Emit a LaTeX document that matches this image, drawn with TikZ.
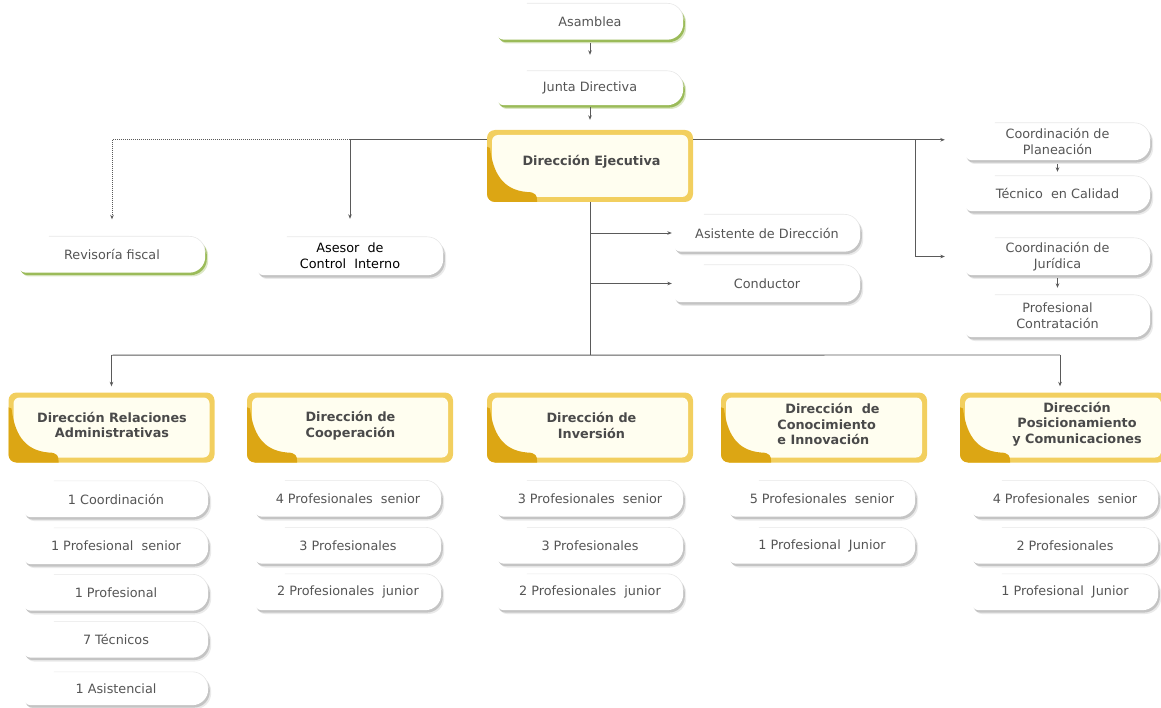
\documentclass[tikz,border=0pt]{standalone}
\usepackage{fontspec}
\setmainfont{DejaVu Sans}
\usetikzlibrary{arrows.meta,calc,backgrounds}
\definecolor{ln}{HTML}{5A5A5A}
\definecolor{tg}{HTML}{555555}
\definecolor{tb}{HTML}{4A4A4A}
\definecolor{dyel}{HTML}{F2CF5F}
\definecolor{crm}{HTML}{FFFEF0}
\definecolor{dgold}{HTML}{DCA614}
\definecolor{grn}{HTML}{9BBB59}
\definecolor{shg}{HTML}{C4C4C4}
\newcommand\bfill[4]{\fill[#1] ([shift={(#3,#4)}]#2.north) -- ([shift={(#3-16pt,#4)}]#2.north east) arc[start angle=90,end angle=0,radius=16pt] -- ([shift={(#3,#4+16pt)}]#2.south east) arc[start angle=0,end angle=-90,radius=16pt] -- ([shift={(#3+7pt,#4)}]#2.south west) arc[start angle=270,end angle=180,radius=7pt] -- ([shift={(#3,#4-7pt)}]#2.north west) arc[start angle=180,end angle=90,radius=7pt] -- cycle;}
\newcommand\shelf[2][shg]{\bfill{#1!35}{#2}{3pt}{-3.8pt}\bfill{#1}{#2}{1.6pt}{-2.4pt}\bfill{white}{#2}{0pt}{0pt}\draw[black!9,line width=0.6pt] ([xshift=30pt]#2.north west) -- ([xshift=-16pt]#2.north east) arc[start angle=90,end angle=0,radius=16pt];}
\begin{document}
\begin{tikzpicture}[x=1pt,y=-1pt,
 txt/.style={font=\fontsize{12.8}{16}\selectfont,text=tg,align=center,inner sep=0pt},
 ibox/.style={txt,minimum width=186pt,minimum height=36pt},
 btxt/.style={font=\bfseries\fontsize{12.8}{15.7}\selectfont,text=tb,align=center,inner sep=0pt},
 dirbox/.style={rounded corners=8pt,fill=dyel,minimum width=206pt,minimum height=70pt,inner sep=0pt,
   path picture={
     \fill[crm,rounded corners=6pt] ([shift={(5pt,-5pt)}]path picture bounding box.north west) rectangle ([shift={(-5pt,5pt)}]path picture bounding box.south east);
     \fill[dgold,sharp corners] ([shift={(-2pt,56pt)}]path picture bounding box.south west) -- ([shift={(3pt,54pt)}]path picture bounding box.south west) .. controls ([shift={(6pt,30pt)}]path picture bounding box.south west) and ([shift={(15pt,12pt)}]path picture bounding box.south west) .. ([shift={(40pt,10pt)}]path picture bounding box.south west) .. controls ([shift={(49pt,10pt)}]path picture bounding box.south west) and ([shift={(50pt,6pt)}]path picture bounding box.south west) .. ([shift={(50pt,2pt)}]path picture bounding box.south west) -- ([shift={(50pt,-2pt)}]path picture bounding box.south west) -- ([shift={(-2pt,-2pt)}]path picture bounding box.south west) -- cycle;
   }},
 conn/.style={draw=ln,line width=0.9pt},
 arr/.style={conn,-{Stealth[length=4.5pt,width=3.6pt]}},
]
\useasboundingbox (0,0) rectangle (1161,708);
% top chain
\node[ibox,minimum height=36pt] (asam) at (590,21.5) {Asamblea};
\node[ibox,minimum height=34pt] (junta) at (590,88) {Junta Directiva};
\node[dirbox,minimum height=72pt] (de) at (590,166) {};
\node[btxt] (det) at (591.5,162) {Dirección Ejecutiva};
% staff
\node[ibox] (rev) at (112,254.5) {Revisoría fiscal};
\node[ibox,minimum height=38pt,text=black] (ase) at (350,256) {Asesor~~de\\Control~~Interno};
\node[ibox,minimum height=37pt] (asis) at (767,233) {Asistente de Dirección};
\node[ibox,minimum height=37pt] (cond) at (767,283.5) {Conductor};
\node[ibox,minimum width=185pt,minimum height=37pt] (plan) at (1057.5,141.5) {Coordinación de\\Planeación};
\node[ibox,minimum width=185pt,minimum height=35pt] (tec) at (1057.5,193.5) {Técnico~ en Calidad};
\node[ibox,minimum width=185pt,minimum height=37pt] (jur) at (1057.5,256.5) {Coordinación de\\Jurídica};
\node[ibox,minimum width=185pt,minimum height=42pt] (prof) at (1057.5,316) {Profesional\\Contratación};
% directorates
\node[dirbox] (d1) at (111.5,427.5) {};
\node[dirbox] (d2) at (350,427.5) {};
\node[dirbox] (d3) at (590,427.5) {};
\node[dirbox] (d4) at (824,427.5) {};
\node[dirbox] (d5) at (1063,427.5) {};
\node[btxt] (d1t) at (112,425) {Dirección Relaciones\\Administrativas};
\node[btxt] (d2t) at (350.5,425.5) {Dirección de\\Cooperación};
\node[btxt] (d3t) at (591.5,425.5) {Dirección de\\Inversión};
\node[btxt,align=left] (d4t) at (828.5,424) {\hspace{8pt}Dirección~~de\\Conocimiento\\e Innovación};
\node[btxt] (d5t) at (1077,424) {Dirección\\Posicionamiento\\y Comunicaciones};
% items
\node[ibox,minimum width=184pt] (a1) at (116,499) {1 Coordinación};
\node[ibox,minimum width=184pt] (a2) at (116,546) {1 Profesional~~senior};
\node[ibox,minimum width=184pt] (a3) at (116,592.5) {1 Profesional};
\node[ibox,minimum width=184pt] (a4) at (116,639.5) {7 Técnicos};
\node[ibox,minimum width=184pt,minimum height=33pt] (a5) at (116,688.5) {1 Asistencial};
\node[ibox] (b1) at (348,498.5) {4 Profesionales~~senior};
\node[ibox] (b2) at (348,545.5) {3 Profesionales};
\node[ibox] (b3) at (348,592) {2 Profesionales~~junior};
\node[ibox] (c1) at (590,498.5) {3 Profesionales~~senior};
\node[ibox] (c2) at (590,545.5) {3 Profesionales};
\node[ibox] (c3) at (590,592) {2 Profesionales~~junior};
\node[ibox] (e1) at (822,498.5) {5 Profesionales~~senior};
\node[ibox] (e2) at (822,545.5) {1 Profesional~~Junior};
\node[ibox] (f1) at (1065,498.5) {4 Profesionales~~senior};
\node[ibox] (f2) at (1065,545.5) {2 Profesionales};
\node[ibox] (f3) at (1065,592) {1 Profesional~~Junior};
% shelves
\begin{scope}[on background layer]
\shelf[grn]{asam}\shelf[grn]{junta}\shelf[grn]{rev}
\foreach \n in {ase,asis,cond,plan,tec,jur,prof,a1,a2,a3,a4,a5,b1,b2,b3,c1,c2,c3,e1,e2,f1,f2,f3}{\shelf{\n}}
\end{scope}
% connectors
\draw[arr] ([yshift=-3.5pt]asam.south) -- ([yshift=16pt]junta.north);
\draw[arr] ([yshift=-2pt]junta.south) -- ([yshift=10pt]de.north);
\coordinate (L) at ($(de.north west)+(0,10)$);
\coordinate (R) at ($(de.north east)+(0,10)$);
\draw[conn] (L) -- (ase.north |- L);
\draw[conn,dash pattern=on 1pt off 1pt] (ase.north |- L) -- (rev.north |- L);
\draw[arr,dash pattern=on 1pt off 1pt] (rev.north |- L) -- ([yshift=17pt]rev.north);
\draw[arr] (ase.north |- L) -- ([yshift=18pt]ase.north);
\draw[arr] (R) -- ($(plan.west |- R)+(-20,0)$);
\coordinate (Rv) at (915,140);
\draw[arr] (Rv) |- ($(jur.west)+(-20,0)$);
\draw[arr] ([yshift=-4pt]plan.south) -- ([yshift=4pt]tec.north);
\draw[arr] ([yshift=-3pt]jur.south) -- ([yshift=7pt]prof.north);
\coordinate (B) at ($(de.south)+(0,153)$);
\draw[conn] (de.south) -- (B);
\draw[arr] (de.south |- asis.west) -- ($(asis.west)+(-2,0)$);
\draw[arr] (de.south |- cond.west) -- ($(cond.west)+(-2,0)$);
\coordinate (B5) at (1060,355);
\draw[conn] (d1.north |- B) -- (B5);
\draw[arr] (d1.north |- B) -- ([yshift=6pt]d1.north);
\draw[arr] (B5) -- ($(B5 |- d5.north)+(0,-6)$);
\end{tikzpicture}
\end{document}
